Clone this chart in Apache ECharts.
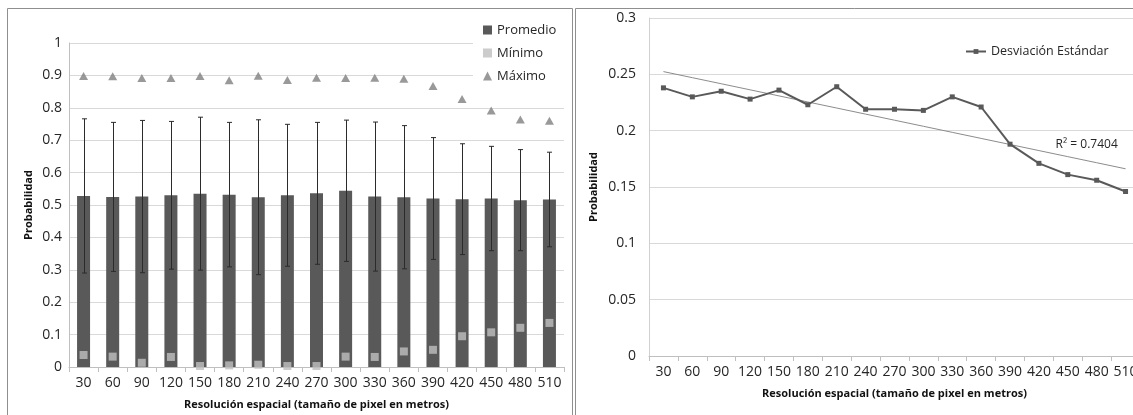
<!DOCTYPE html>
<html>
<head>
<meta charset="utf-8">
<script src="https://cdn.jsdelivr.net/npm/echarts@6/dist/echarts.min.js"></script>
<style>
  html, body { margin: 0; padding: 0; background: #fff; }
  #chart { width: 1133px; height: 415px; }
</style>
</head>
<body>
<div id="chart"></div>
<script>
// Resolución espacial (m)
const categories = ['30','60','90','120','150','180','210','240','270','300','330','360','390','420','450','480','510'];
// Probabilidad media por resolución
const promedio = [0.528,0.525,0.526,0.530,0.535,0.532,0.524,0.530,0.536,0.544,0.526,0.524,0.520,0.518,0.520,0.515,0.517];
// Mínimo y máximo
const minimo = [0.037,0.032,0.013,0.031,0.003,0.005,0.007,0.003,0.003,0.032,0.031,0.048,0.053,0.095,0.107,0.121,0.136];
const maximo = [0.898,0.897,0.892,0.892,0.898,0.885,0.899,0.886,0.893,0.892,0.893,0.890,0.867,0.827,0.792,0.764,0.760];
// Desviación estándar (también usada como barra de error del promedio)
const desviacion = [0.238,0.230,0.235,0.228,0.236,0.223,0.239,0.219,0.219,0.218,0.230,0.221,0.188,0.171,0.161,0.156,0.146];
const r2Label = 'R² = 0.7404';
const leftTicks = { min: 0, max: 1, interval: 0.1 };
const rightTicks = { min: 0, max: 0.3, interval: 0.05 };

// Barras de error: promedio ± desviación estándar
const errorData = promedio.map((m, i) => [i, m + desviacion[i], m - desviacion[i]]);

// Línea de tendencia lineal (mínimos cuadrados sobre el índice de categoría)
const n = desviacion.length;
const xMean = (n - 1) / 2;
const yMean = desviacion.reduce((a, b) => a + b, 0) / n;
let sxy = 0, sxx = 0;
desviacion.forEach((y, i) => { sxy += (i - xMean) * (y - yMean); sxx += (i - xMean) * (i - xMean); });
const slope = sxy / sxx;
const tendencia = desviacion.map((_, i) => yMean + slope * (i - xMean));

const FONT = '"Open Sans", "Noto Sans", sans-serif';
const fmt = v => String(+v.toFixed(2));

const chart = echarts.init(document.getElementById('chart'), null, { renderer: 'canvas' });

const axisLabelStyle = { color: '#262626', fontFamily: FONT, fontSize: 14 };
const titleStyle = { color: '#111', fontFamily: FONT, fontSize: 11, fontWeight: 'bold' };

chart.setOption({
  animation: false,
  backgroundColor: '#fff',
  grid: [
    { left: 69, top: 43, width: 495, height: 324, outerBoundsMode: 'none' },
    { left: 649, top: 18, width: 491, height: 338, outerBoundsMode: 'none' }
  ],
  legend: [
    {
      data: [
        { name: 'Promedio', icon: 'rect' },
        { name: 'Mínimo', icon: 'rect' },
        { name: 'Máximo', icon: 'triangle' }
      ],
      orient: 'vertical',
      left: 473, top: 16,
      padding: [6, 9, 6, 10],
      itemWidth: 9, itemHeight: 9, itemGap: 7,
      backgroundColor: '#fff',
      textStyle: { color: '#262626', fontFamily: FONT, fontSize: 13, lineHeight: 16 }
    },
    {
      data: ['Desviación Estándar'],
      left: 960, top: 40,
      itemWidth: 20, itemHeight: 6,
      textStyle: { color: '#262626', fontFamily: FONT, fontSize: 12.5 }
    }
  ],
  xAxis: [
    {
      type: 'category', gridIndex: 0, data: categories, boundaryGap: true,
      axisLine: { lineStyle: { color: '#bfbfbf' } },
      axisTick: { show: true, length: 5, lineStyle: { color: '#bfbfbf' } },
      axisLabel: Object.assign({ margin: 9, interval: 0 }, axisLabelStyle),
      name: 'Resolución espacial (tamaño de pixel en metros)',
      nameLocation: 'middle', nameGap: 32, nameTextStyle: titleStyle
    },
    {
      type: 'category', gridIndex: 1, data: categories, boundaryGap: true,
      axisLine: { lineStyle: { color: '#bfbfbf' } },
      axisTick: { show: true, length: 5, lineStyle: { color: '#bfbfbf' } },
      axisLabel: Object.assign({ margin: 9, interval: 0 }, axisLabelStyle),
      name: 'Resolución espacial (tamaño de pixel en metros)',
      nameLocation: 'middle', nameGap: 32, nameTextStyle: titleStyle
    }
  ],
  yAxis: [
    {
      type: 'value', gridIndex: 0,
      min: leftTicks.min, max: leftTicks.max, interval: leftTicks.interval,
      axisLine: { show: true, lineStyle: { color: '#bfbfbf' } },
      axisTick: { show: false },
      splitLine: { lineStyle: { color: '#d9d9d9' } },
      axisLabel: Object.assign({ margin: 7, formatter: fmt }, axisLabelStyle),
      name: 'Probabilidad', nameLocation: 'middle', nameGap: 35, nameTextStyle: titleStyle
    },
    {
      type: 'value', gridIndex: 1,
      min: rightTicks.min, max: rightTicks.max, interval: rightTicks.interval,
      axisLine: { show: true, lineStyle: { color: '#d0d0d0' } },
      axisTick: { show: false },
      splitLine: { lineStyle: { color: '#d9d9d9' } },
      axisLabel: Object.assign({ margin: 13, formatter: fmt }, axisLabelStyle),
      name: 'Probabilidad', nameLocation: 'middle', nameGap: 50, nameTextStyle: titleStyle
    }
  ],
  series: [
    {
      name: 'Promedio', type: 'bar', xAxisIndex: 0, yAxisIndex: 0,
      data: promedio, barWidth: 13,
      itemStyle: { color: '#595959' }, z: 2
    },
    {
      name: 'Error', type: 'custom', xAxisIndex: 0, yAxisIndex: 0,
      data: errorData, z: 3,
      encode: { x: 0, y: [1, 2] },
      renderItem: (params, api) => {
        const hi = api.coord([api.value(0), api.value(1)]);
        const lo = api.coord([api.value(0), api.value(2)]);
        const x = Math.round(hi[0]) + 0.5;
        const half = 2.5;
        const st = { stroke: '#2b2b2b', lineWidth: 1 };
        return {
          type: 'group',
          children: [
            { type: 'line', shape: { x1: x, y1: hi[1], x2: x, y2: lo[1] }, style: st },
            { type: 'line', shape: { x1: x - half, y1: hi[1], x2: x + half, y2: hi[1] }, style: st },
            { type: 'line', shape: { x1: x - half, y1: lo[1], x2: x + half, y2: lo[1] }, style: st }
          ]
        };
      }
    },
    {
      name: 'Mínimo', type: 'scatter', xAxisIndex: 0, yAxisIndex: 0,
      data: minimo, symbol: 'rect', symbolSize: 8,
      itemStyle: { color: '#bfbfbf' }, z: 4
    },
    {
      name: 'Máximo', type: 'scatter', xAxisIndex: 0, yAxisIndex: 0,
      data: maximo, symbol: 'triangle', symbolSize: [9, 8],
      itemStyle: { color: '#7f7f7f' }, z: 4
    },
    {
      name: 'Lineal (Desviación Estándar)', type: 'line', xAxisIndex: 1, yAxisIndex: 1,
      data: tendencia, showSymbol: false, symbol: 'none',
      lineStyle: { color: '#8c8c8c', width: 1 }, z: 2,
      markPoint: {
        symbol: 'circle', symbolSize: 0, silent: true,
        data: [{ coord: [categories[15], tendencia[15]] }],
        label: {
          show: true, formatter: r2Label, position: 'top', offset: [-10, -7],
          color: '#262626', fontFamily: FONT, fontSize: 12
        }
      }
    },
    {
      name: 'Desviación Estándar', type: 'line', xAxisIndex: 1, yAxisIndex: 1,
      data: desviacion, symbol: 'rect', symbolSize: 5,
      itemStyle: { color: '#595959' },
      lineStyle: { color: '#595959', width: 2 }, z: 3
    }
  ],
  graphic: [
    {
      type: 'polyline', silent: true,
      shape: { points: [[7.5, 420], [7.5, 8.5], [572.5, 8.5], [572.5, 420]] },
      style: { stroke: '#8f8f8f', fill: null, lineWidth: 1 }
    },
    {
      type: 'polyline', silent: true,
      shape: { points: [[575.5, 420], [575.5, 8.5], [1140, 8.5]] },
      style: { stroke: '#8f8f8f', fill: null, lineWidth: 1 }
    }
  ]
});
</script>
</body>
</html>
